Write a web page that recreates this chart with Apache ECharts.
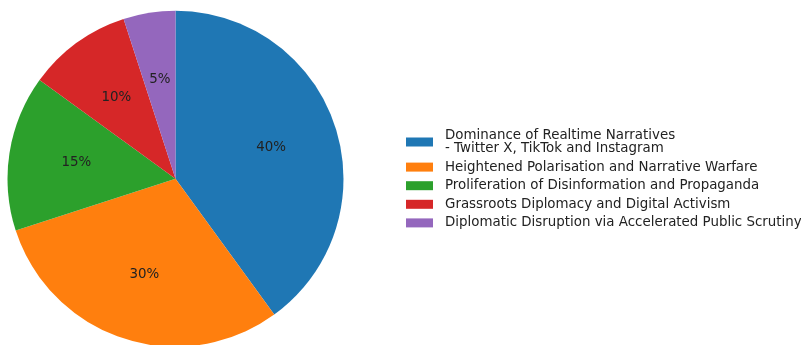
<!DOCTYPE html>
<html><head><meta charset="utf-8">
<script src="https://cdn.jsdelivr.net/npm/echarts@6/dist/echarts.min.js"></script>
<style>html,body{margin:0;padding:0;background:#fff}#c{width:801px;height:345px}</style>
</head><body><div id="c"></div>
<script>
const categories = [
  "Dominance of Realtime Narratives\n- Twitter X, TikTok and Instagram",
  "Heightened Polarisation and Narrative Warfare",
  "Proliferation of Disinformation and Propaganda",
  "Grassroots Diplomacy and Digital Activism",
  "Diplomatic Disruption via Accelerated Public Scrutiny"
];
const values = [40, 30, 15, 10, 5];
const colors = ["#1f77b4", "#ff7f0e", "#2ca02c", "#d62728", "#9467bd"];

const chart = echarts.init(document.getElementById('c'), null, {renderer: 'canvas'});
const R = 168;
const pieData = categories.map((n, i) => ({name: n, value: values[i], itemStyle: {color: colors[i]}}));
const labelData = categories.map((n, i) => ({name: n, value: values[i]}));
chart.setOption({
  animation: false,
  textStyle: {fontFamily: 'DejaVu Sans'},
  legend: {
    orient: 'vertical', left: 406, top: 129, padding: 0,
    itemWidth: 27, itemHeight: 9, itemGap: 5.6,
    icon: 'rect',
    data: categories,
    textStyle: {fontSize: 13.4, color: '#222', lineHeight: 13, padding: [0, 0, 0, 7], fontFamily: 'DejaVu Sans'}
  },
  series: [
    {
      type: 'pie', center: [175.5, 178.7], radius: [0, R],
      startAngle: 90, clockwise: true,
      label: {show: false}, labelLine: {show: false},
      emphasis: {disabled: true},
      data: pieData
    },
    {
      type: 'pie', center: [175.5, 178.7], radius: [0, R * 1.16],
      startAngle: 90, clockwise: true, silent: true,
      itemStyle: {color: 'rgba(0,0,0,0)'},
      legendHoverLink: false,
      label: {show: true, position: 'inside', formatter: p => p.value + '%', fontSize: 13.4, color: '#222', fontFamily: 'DejaVu Sans'},
      labelLine: {show: false},
      emphasis: {disabled: true},
      data: labelData
    }
  ]
});
</script></body></html>
